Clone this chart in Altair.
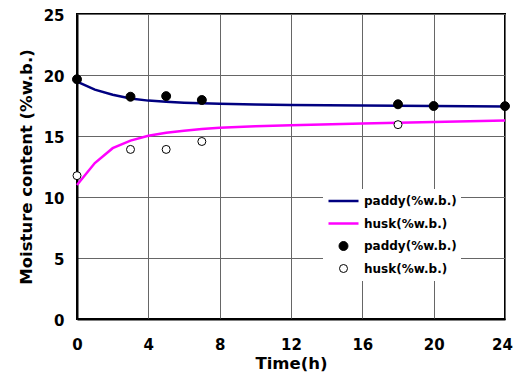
import altair as alt
import pandas as pd

# ---- data ----
line_time = [0, 1, 2, 3, 4, 5, 6, 7, 8, 10, 12, 16, 20, 24]
paddy_model = [19.45, 18.8, 18.38, 18.08, 17.9, 17.8, 17.73, 17.68, 17.65, 17.58, 17.54, 17.49, 17.45, 17.42]
husk_model = [10.98, 12.78, 14.0, 14.62, 15.02, 15.27, 15.43, 15.57, 15.68, 15.8, 15.88, 16.03, 16.15, 16.28]

paddy_time = [0, 3, 5, 7, 18, 20, 24]
paddy_meas = [19.65, 18.22, 18.27, 17.95, 17.6, 17.46, 17.45]
husk_time = [0, 3, 5, 7, 18]
husk_meas = [11.75, 13.9, 13.9, 14.55, 15.93]

keys = ["paddy_line", "husk_line", "paddy_pt", "husk_pt"]
x_ticks = [0, 4, 8, 12, 16, 20, 24]
y_ticks = [0, 5, 10, 15, 20, 25]

NAVY = "#000080"
MAGENTA = "#FF00FF"
FONT = "DejaVu Sans"

lines_df = pd.DataFrame(
    {"t": line_time * 2,
     "v": paddy_model + husk_model,
     "series": ["paddy_line"] * len(line_time) + ["husk_line"] * len(line_time)}
)
pts_df = pd.DataFrame(
    {"t": paddy_time + husk_time,
     "v": paddy_meas + husk_meas,
     "series": ["paddy_pt"] * len(paddy_time) + ["husk_pt"] * len(husk_time)}
)

x_enc = alt.X("t:Q", title="Time(h)",
              scale=alt.Scale(domain=[0, 24], nice=False),
              axis=alt.Axis(values=x_ticks, format="d", labelFlush=False,
                            labelOffset={"condition": {"test": "datum.value === 24", "value": -3}, "value": 0}))
y_enc = alt.Y("v:Q", title="Moisture content (%w.b.)",
              scale=alt.Scale(domain=[0, 25], nice=False),
              axis=alt.Axis(values=y_ticks, format="d", labelFlush=False))

leg = alt.Legend(
    title=None, orient="none", legendX=246, legendY=175,
    fillColor="white", padding=4, rowPadding=6.5, clipHeight=16,
    labelFont=FONT, labelFontWeight="bold", labelFontSize=12, labelColor="black",
    labelOffset=4, symbolOpacity=1,
    labelExpr="indexof(datum.label, 'paddy') >= 0 ? 'paddy(%w.b.)' : 'husk(%w.b.)'",
)

lines = alt.Chart(lines_df).mark_line(strokeWidth=2.5).encode(
    x=x_enc, y=y_enc,
    color=alt.Color("series:N", scale=alt.Scale(domain=["paddy_line", "husk_line"], range=[NAVY, MAGENTA]), legend=None),
)

points = alt.Chart(pts_df).mark_point(opacity=1).encode(
    x=x_enc, y=y_enc,
    shape=alt.Shape("series:N", scale=alt.Scale(domain=keys, range=["stroke", "stroke", "circle", "circle"]), legend=leg),
    stroke=alt.Stroke("series:N", scale=alt.Scale(domain=keys, range=[NAVY, MAGENTA, "black", "black"]), legend=leg),
    fill=alt.Fill("series:N", scale=alt.Scale(domain=keys, range=["transparent", "transparent", "black", "white"]), legend=leg),
    size=alt.Size("series:N", scale=alt.Scale(type="ordinal", domain=keys, range=[900, 900, 80, 64]), legend=leg),
    strokeWidth=alt.StrokeWidth("series:N", scale=alt.Scale(type="ordinal", domain=keys, range=[2.5, 2.5, 1, 1]), legend=leg),
)

chart = alt.layer(lines, points).properties(
    width=428, height=305,
    autosize=alt.AutoSizeParams(type="none"),
    padding={"left": 69, "top": 6, "right": 8, "bottom": 58},
).configure_view(
    stroke="black", strokeWidth=2
).configure_axis(
    domainColor="black", domainWidth=2,
    grid=True, gridColor="#666666", gridWidth=1, gridOpacity=1,
    ticks=False,
    labelFont=FONT, labelFontWeight="bold", labelFontSize=15, labelColor="black",
    titleFont=FONT, titleFontWeight="bold", titleFontSize=16.5, titleColor="black",
).configure_axisX(
    labelPadding=18, titlePadding=3,
).configure_axisY(
    labelPadding=13, titlePadding=9, labelOffset=1,
)

chart.save("out.html", embed_options={"renderer": "svg", "actions": False})
